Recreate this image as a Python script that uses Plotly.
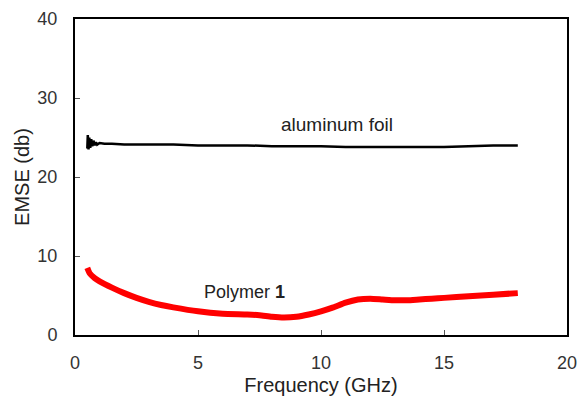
import plotly.graph_objects as go

# Aluminum foil EMSE (dB) vs frequency (GHz)
al_freq = [0.5, 0.52, 0.55, 0.58, 0.62, 0.66, 0.7, 0.75, 0.8, 0.85, 0.9, 1.0, 1.2, 1.5, 2, 3, 4, 5, 6, 7, 8, 9, 10, 11, 12, 13, 14, 15, 16, 17, 18]
al_emse = [23.6, 25.3, 23.5, 25.0, 23.7, 24.8, 23.9, 24.6, 24.0, 24.4, 24.1, 24.3, 24.2, 24.2, 24.1, 24.1, 24.1, 24.0, 24.0, 24.0, 23.9, 23.9, 23.9, 23.8, 23.8, 23.8, 23.8, 23.8, 23.9, 24.0, 24.0]

# Polymer 1 EMSE (dB) vs frequency (GHz)
p_freq = [0.5, 0.6, 0.8, 1.0, 1.5, 2.0, 2.5, 3.0, 3.5, 4.0, 5.0, 6.0, 7.0, 7.5, 8.0, 8.5, 9.0, 9.5, 10.0, 10.5, 11.0, 11.5, 12.0, 12.5, 13.0, 13.5, 14.0, 14.5, 15.0, 16.0, 17.0, 18.0]
p_emse = [8.5, 7.8, 7.2, 6.8, 6.0, 5.3, 4.7, 4.2, 3.8, 3.5, 3.0, 2.7, 2.6, 2.5, 2.3, 2.2, 2.3, 2.6, 3.0, 3.5, 4.1, 4.5, 4.6, 4.5, 4.4, 4.4, 4.5, 4.6, 4.7, 4.9, 5.1, 5.3]

x_ticks = [0, 5, 10, 15, 20]
y_ticks = [0, 10, 20, 30, 40]

FONT = "Liberation Sans, Arial"

fig = go.Figure()
fig.add_trace(go.Scatter(x=p_freq, y=p_emse, mode="lines",
                         line=dict(color="#ff0000", width=6, shape="spline", smoothing=0.5),
                         showlegend=False))
fig.add_trace(go.Scatter(x=al_freq, y=al_emse, mode="lines",
                         line=dict(color="#000000", width=2.5),
                         showlegend=False))

fig.add_annotation(x=10.65, y=26.6, text="aluminum foil", showarrow=False,
                   font=dict(family=FONT, size=19, color="#222"))
fig.add_annotation(x=6.9, y=5.4, text="Polymer <b>1</b>", showarrow=False,
                   font=dict(family=FONT, size=18, color="#222"))

axis_common = dict(showgrid=False, zeroline=False, showline=True, linecolor="#000",
                   linewidth=2, mirror=True, ticks="inside", ticklen=5, tickcolor="#555",
                   automargin=False, ticklabeloverflow="allow",
                   tickfont=dict(family=FONT, size=18, color="#333"))
fig.update_xaxes(range=[0, 20], tickvals=x_ticks, ticklabelstandoff=10, **axis_common,
                 title=dict(text="Frequency (GHz)", standoff=6,
                            font=dict(family=FONT, size=20, color="#222")))
fig.update_yaxes(range=[0, 40], tickvals=y_ticks, ticklabelstandoff=12, **axis_common,
                 title=dict(text="EMSE (db)", standoff=2,
                            font=dict(family=FONT, size=20, color="#222")))

fig.update_layout(width=577, height=399, margin=dict(l=75, r=10, t=19, b=64),
                  plot_bgcolor="white", paper_bgcolor="white")
fig.write_html("out.html")
